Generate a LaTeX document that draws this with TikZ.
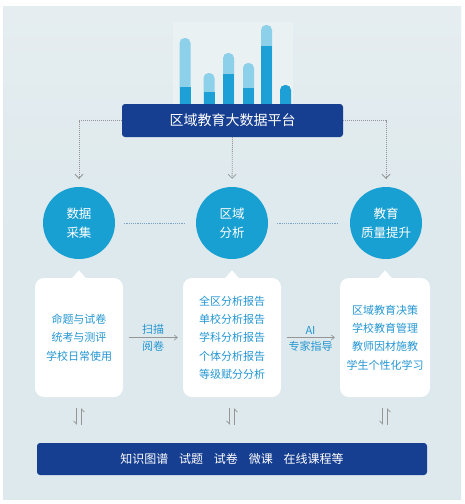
\documentclass[tikz,border=0pt]{standalone}
\usepackage{fontspec}
\setmainfont{Noto Sans CJK SC}
\usetikzlibrary{arrows.meta, positioning, calc}
\definecolor{panelgray}{RGB}{229,237,240}
\definecolor{panelmid}{RGB}{221,233,237}
\definecolor{chartbg}{RGB}{234,241,243}
\definecolor{barlight}{RGB}{140,208,234}
\definecolor{bardark}{RGB}{29,160,214}
\definecolor{navyblue}{RGB}{22,62,145}
\definecolor{circleblue}{RGB}{24,160,210}
\definecolor{textblue}{RGB}{36,150,210}
\definecolor{linegray}{RGB}{150,150,150}
\definecolor{dotblue}{RGB}{125,165,195}

\begin{document}
\begin{tikzpicture}[
    x=1pt, y=-1pt,
    platform/.style={rectangle, rounded corners=3pt, minimum width=221pt, minimum height=33pt, fill=navyblue, text=white, font=\fontsize{14}{16}\selectfont},
    stage/.style={circle, minimum size=72pt, inner sep=0pt, fill=circleblue, text=white, align=center, font=\fontsize{12.5}{19}\selectfont},
    card/.style={rectangle, rounded corners=9pt, minimum height=119pt, fill=white, text=textblue, align=center, font=\fontsize{11}{18.3}\selectfont},
    resource/.style={rectangle, rounded corners=3pt, minimum width=390pt, minimum height=32pt, fill=navyblue, text=white, font=\fontsize{12}{14}\selectfont},
    dotconn/.style={linegray, line width=0.8pt, dash pattern=on 1pt off 1pt, -{Straight Barb[length=4pt, width=8pt, line width=0.8pt]}, shorten >=8pt},
    linkdot/.style={dotblue, line width=0.9pt, dash pattern=on 1.2pt off 1pt, shorten <=9pt, shorten >=12pt},
    flow/.style={linegray, line width=0.7pt, -{Straight Barb[length=3pt, width=5pt]}, shorten <=6pt, shorten >=5pt},
    flowlabel/.style={text=textblue, font=\fontsize{11}{13}\selectfont, inner sep=3pt},
    harpoon/.style={linegray, line width=0.7pt, -{Straight Barb[right, length=3pt, width=6pt]}}
]

\useasboundingbox (0,0) rectangle (464,504);

% Background panel
\fill[white] (0,0) rectangle (464,504);
\shade[top color=panelgray, bottom color=panelmid, middle color=panelmid] (3,6) rectangle (461,499);
\fill[chartbg] (173,22) rectangle (293,104);

% Bar chart
\foreach \bx/\btop/\bmid in {185/38/87, 209/73/92, 228.5/53/74, 248.5/63/88, 266.5/25/46} {
    \fill[barlight, rounded corners=5pt] (\bx-5.5,\btop) rectangle (\bx+5.5,112);
    \fill[bardark] (\bx-5.5,\bmid) rectangle (\bx+5.5,112);
}
\fill[bardark, rounded corners=5pt] (280,85) rectangle (291,112);

% Platform
\node (platform_box) [platform] at (232.5,120.5) {区域教育大数据平台};

% Stages
\node (collect_circle) [stage] at (79,223) {数据\\采集};
\node (analysis_circle) [stage] at (232,223) {区域\\分析};
\node (quality_circle) [stage] at (386,223) {教育\\质量提升};

\draw [dotconn] (platform_box.west) -| (collect_circle.north);
\draw [dotconn] (platform_box.south) -- (analysis_circle.north);
\draw [dotconn] (platform_box.east) -| (quality_circle.north);

\draw [linkdot] (collect_circle.east) -- (analysis_circle.west);
\draw [linkdot] (analysis_circle.east) -- (quality_circle.west);

% Cards
\node (collect_box) [card, minimum width=88pt] at (79,337.5) {命题与试卷\\统考与测评\\学校日常使用};
\node (analysis_box) [card, minimum width=98pt] at (232,337.5) {全区分析报告\\单校分析报告\\学科分析报告\\个体分析报告\\等级赋分分析};
\node (quality_box) [card, minimum width=90pt] at (385,337.5) {区域教育决策\\学校教育管理\\教师因材施教\\学生个性化学习};

\foreach \boxname in {collect_box, analysis_box, quality_box} {
    \fill[white] ($(\boxname.north)+(-7.5,1)$) -- ($(\boxname.north)+(0,-7.5)$) -- ($(\boxname.north)+(7.5,1)$) -- cycle;
}

\draw [flow] (collect_box.east) -- node[flowlabel, above] {扫描} node[flowlabel, below] {阅卷} (analysis_box.west);
\draw [flow] (analysis_box.east) -- node[flowlabel, above] {AI} node[flowlabel, below] {专家指导} (quality_box.west);

% Resources
\node (resource_box) [resource] at (232,459) {知识图谱\hspace{0.9em}试题\hspace{0.9em}试卷\hspace{0.9em}微课\hspace{0.9em}在线课程等};

\foreach \boxname in {collect_box, analysis_box, quality_box} {
    \draw [harpoon, shorten <=11pt, shorten >=18pt] ($(\boxname.south)+(-2.5,0)$) -- ($(\boxname.south |- resource_box.north)+(-2.5,0)$);
    \draw [harpoon, shorten <=18pt, shorten >=11pt] ($(\boxname.south |- resource_box.north)+(2.5,0)$) -- ($(\boxname.south)+(2.5,0)$);
}

\end{tikzpicture}
\end{document}
